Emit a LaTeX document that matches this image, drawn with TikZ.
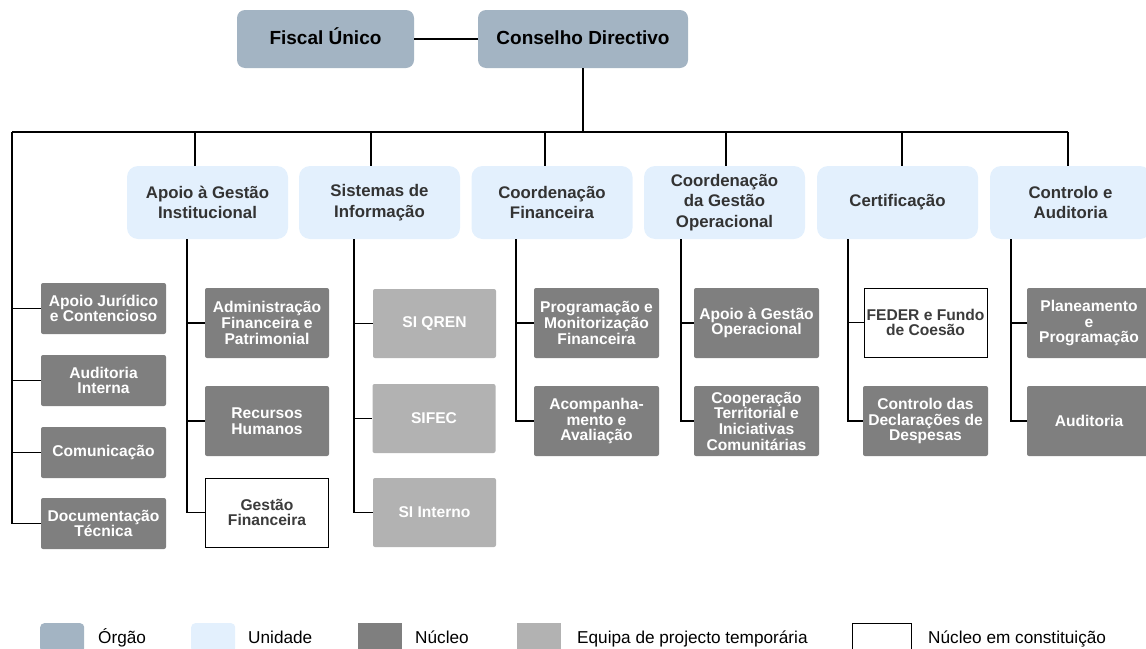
\documentclass[tikz,border=0pt]{standalone}
\usepackage{fontspec}
\setmainfont{Liberation Sans}
\definecolor{orgaoc}{HTML}{A3B4C3}
\definecolor{unidc}{HTML}{E3F0FD}
\definecolor{nucc}{HTML}{7F7F7F}
\definecolor{eqc}{HTML}{B2B2B2}
\definecolor{unitxt}{HTML}{333333}
\definecolor{nctxt}{HTML}{3C3C3C}
\begin{document}
\begin{tikzpicture}[x=1pt,y=-1pt,
  orgbox/.style={fill=orgaoc, rounded corners=8pt, minimum height=58pt, inner sep=0pt, text height=13.5pt, text depth=3.5pt, font=\fontsize{19}{22}\selectfont\bfseries, text=black},
  unitbox/.style={fill=unidc, rounded corners=11pt, minimum width=161pt, minimum height=73pt, inner sep=0pt, align=center, font=\fontsize{16.8}{20.5}\selectfont\bfseries, text=unitxt},
  nucbox/.style={fill=nucc, rounded corners=2pt, minimum height=70pt, inner sep=0pt, align=center, text=white, font=\fontsize{15.6}{15.7}\selectfont\bfseries},
  eqbox/.style={nucbox, fill=eqc},
  ncbox/.style={nucbox, fill=white, draw=black, line width=1pt, rounded corners=0pt, text=nctxt},
  conn/.style={line width=1.6pt, black},
  legsw/.style={minimum width=44pt, minimum height=29pt, inner sep=0pt, anchor=north west},
  legtxt/.style={anchor=base west, inner sep=0pt, font=\fontsize{17.2}{18}\selectfont, text=black}
]
\useasboundingbox (0,0) rectangle (1146,648);
\clip (0,0) rectangle (1146,648);

% top level
\node[orgbox, minimum width=177pt] (fiscal) at (325.5,39) {Fiscal Único};
\node[orgbox, minimum width=210pt] (cons) at (583,39) {Conselho Directivo};
\draw[conn] (fiscal.east) -- (cons.west);

% bus
\coordinate (busL) at (12,132);
\coordinate (busR) at (1068,132);
\draw[conn] (cons.south) -- (cons.south |- busL);
\draw[conn] (busL) -- (busR);

% units
\node[unitbox] (u1) at (207.5,202.5) {Apoio à Gestão\\Institucional};
\node[unitbox] (u2) at (379.5,202.5) {Sistemas de\\Informação};
\node[unitbox] (u3) at (552,202.5) {Coordenação\\Financeira};
\node[unitbox] (u4) at (724.5,202.5) {Coordenação\\da Gestão\\Operacional};
\node[unitbox] (u5) at (897.5,202.5) {Certificação};
\node[unitbox] (u6) at (1070.5,202.5) {Controlo e\\Auditoria};

\coordinate (b1) at (195,132);
\coordinate (b2) at (371,132);
\coordinate (b3) at (545,132);
\coordinate (b4) at (726,132);
\coordinate (b5) at (902,132);
\draw[conn] (b1) -- (b1 |- u1.north);
\draw[conn] (b2) -- (b2 |- u2.north);
\draw[conn] (b3) -- (b3 |- u3.north);
\draw[conn] (b4) -- (b4 |- u4.north);
\draw[conn] (b5) -- (b5 |- u5.north);
\draw[conn] (busR) -- (busR |- u6.north);

% left column
\node[nucbox, minimum width=125pt, minimum height=51pt] (l1) at (103.5,308.5) {Apoio Jurídico\\e Contencioso};
\node[nucbox, minimum width=125pt, minimum height=51pt] (l2) at (103.5,380.5) {Auditoria\\Interna};
\node[nucbox, minimum width=125pt, minimum height=51pt] (l3) at (103.5,452.5) {Comunicação};
\node[nucbox, minimum width=125pt, minimum height=51pt] (l4) at (103.5,523.5) {Documentação\\Técnica};
\draw[conn] (busL) |- (l4.west);
\draw[conn] (busL |- l1.west) -- (l1.west);
\draw[conn] (busL |- l2.west) -- (l2.west);
\draw[conn] (busL |- l3.west) -- (l3.west);

% Apoio column
\node[nucbox, minimum width=124pt] (a1) at (267,323) {Administração\\Financeira e\\Patrimonial};
\node[nucbox, minimum width=124pt] (a2) at (267,421) {Recursos\\Humanos};
\node[ncbox, minimum width=123pt, minimum height=69pt] (a3) at (267,512.5) {Gestão\\Financeira};
\coordinate (t1) at (187,239);
\draw[conn] (t1) |- (a3.west);
\draw[conn] (t1 |- a1.west) -- (a1.west);
\draw[conn] (t1 |- a2.west) -- (a2.west);

% Sistemas column
\node[eqbox, minimum width=123pt, minimum height=69pt] (s1) at (434.5,323.5) {SI QREN};
\node[eqbox, minimum width=123pt, minimum height=69pt] (s2) at (434,418.5) {SIFEC};
\node[eqbox, minimum width=123pt, minimum height=69pt] (s3) at (434.5,512.5) {SI Interno};
\coordinate (t2) at (354,239);
\draw[conn] (t2) |- (s3.west);
\draw[conn] (t2 |- s1.west) -- (s1.west);
\draw[conn] (t2 |- s2.west) -- (s2.west);

% Coordenacao Financeira column
\node[nucbox, minimum width=125pt] (f1) at (596.5,323) {Programação e\\Monitorização\\Financeira};
\node[nucbox, minimum width=125pt] (f2) at (596.5,421) {Acompanha-\\mento e\\Avaliação};
\coordinate (t3) at (516,239);
\draw[conn] (t3) |- (f2.west);
\draw[conn] (t3 |- f1.west) -- (f1.west);

% Coordenacao Gestao column
\node[nucbox, minimum width=125pt] (g1) at (756.5,323) {Apoio à Gestão\\Operacional};
\node[nucbox, minimum width=125pt] (g2) at (756.5,421) {Cooperação\\Territorial e\\Iniciativas\\Comunitárias};
\coordinate (t4) at (681,239);
\draw[conn] (t4) |- (g2.west);
\draw[conn] (t4 |- g1.west) -- (g1.west);

% Certificacao column
\node[ncbox, minimum width=123pt, minimum height=69pt] (c1) at (925.5,322.5) {FEDER e Fundo\\de Coesão};
\node[nucbox, minimum width=125pt] (c2) at (925.5,421) {Controlo das\\Declarações de\\Despesas};
\coordinate (t5) at (848,239);
\draw[conn] (t5) |- (c2.west);
\draw[conn] (t5 |- c1.west) -- (c1.west);

% Controlo column
\node[nucbox, minimum width=124pt] (k1) at (1089,323) {Planeamento\\e\\Programação};
\node[nucbox, minimum width=124pt] (k2) at (1089,421) {Auditoria};
\coordinate (t6) at (1011,239);
\draw[conn] (t6) |- (k2.west);
\draw[conn] (t6 |- k1.west) -- (k1.west);

% legend
\node[legsw, fill=orgaoc, rounded corners=4pt] (lg1) at (40,623) {};
\node[legtxt] (lt1) at (98,643) {Órgão};
\node[legsw, fill=unidc, rounded corners=4pt] (lg2) at (191,623) {};
\node[legtxt] (lt2) at (248,643) {Unidade};
\node[legsw, fill=nucc] (lg3) at (358,623) {};
\node[legtxt] (lt3) at (415,643) {Núcleo};
\node[legsw, fill=eqc] (lg4) at (517,623) {};
\node[legtxt] (lt4) at (577,643) {Equipa de projecto temporária};
\node[legsw, fill=white, draw=black, line width=0.8pt, minimum width=59pt] (lg5) at (852,623) {};
\node[legtxt] (lt5) at (928,643) {Núcleo em constituição};
\end{tikzpicture}
\end{document}
